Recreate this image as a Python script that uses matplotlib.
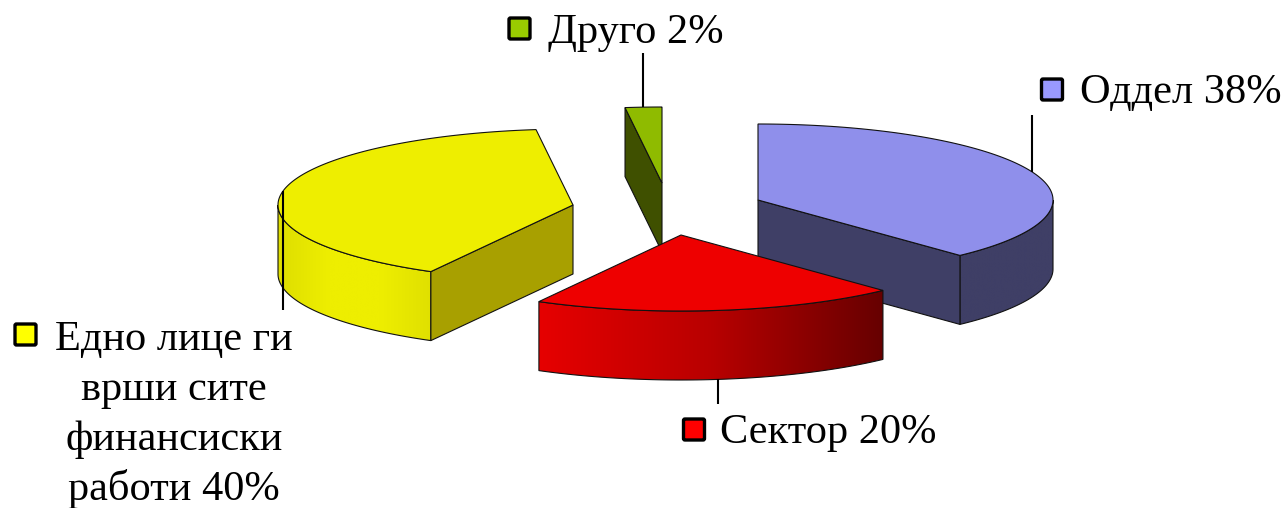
import numpy as np
import matplotlib
matplotlib.use("Agg")
import matplotlib.pyplot as plt
from matplotlib.colors import LinearSegmentedColormap
from matplotlib.patches import FancyBboxPatch, Polygon

# values, clockwise from 12 o'clock
names = ["Оддел 38%", "Сектор 20%", "Едно лице ги\nврши сите\nфинансиски\nработи 40%", "Друго 2%"]
shares = [38, 20, 40, 2]
top_colors = ["#8F8FEB", "#EE0000", "#EEEE00", "#8FBB00"]
cut_colors = ["#3F3F66", "#660000", "#A8A000", "#3F5000"]
key_colors = ["#9999FF", "#FF0000", "#FFFF00", "#99CC00"]
side_ramps = [["#3F3F66", "#3F3F66"],
              ["#E60000", "#B80000", "#660000"],
              ["#DEDE00", "#EEEE00", "#EEEE00", "#E0E000"],
              ["#3F5000", "#3F5000"]]
# which straight edge of a slice shows its cut wall: 0 start, 1 end, None neither
cut_edges = [1, None, 0, 0]

# layout in pixels
centers = [(758, 200), (681, 235), (573, 205), (662, 183)]
RX, RY, DEPTH = 295, 76, 69
leader_ends = [115, 404, 310, 53]
key_pos = [(1041.5, 79), (683.5, 419), (15, 324), (509, 18)]
text_pos = [(1080, 103), (720, 443), (174, 350), (548, 43)]
text_ha = ["left", "left", "center", "left"]
LINE_STEP = 50

EDGE = "#111111"
LW = 0.8


def rim(c, deg, drop=0):
    a = np.radians(deg)
    return np.column_stack([c[0] + RX * np.sin(a), c[1] - RY * np.cos(a) + drop])


def draw_slice(ax, c, a0, a1, top, cut, ramp, cut_edge, z):
    # front wall first, only the part of the arc that faces us
    s0, s1 = max(a0, 90), min(a1, 270)
    if s1 > s0:
        arc = np.linspace(s0, s1, 100)
        wall = np.vstack([rim(c, arc), rim(c, arc[::-1], DEPTH)])
        poly = Polygon(wall, closed=True, fc="none", ec=EDGE, lw=LW, zorder=z + 0.2)
        ax.add_patch(poly)
        cmap = LinearSegmentedColormap.from_list("w", ramp)
        im = ax.imshow(np.linspace(0, 1, 256)[None, :], cmap=cmap, aspect="auto",
                       extent=(wall[:, 0].min(), wall[:, 0].max(), wall[:, 1].max(), wall[:, 1].min()),
                       zorder=z + 0.1)
        im.set_clip_path(poly)

    # flat cut wall
    if cut_edge is not None:
        p = rim(c, (a0, a1)[cut_edge])[0]
        cut_pts = [c, p, (p[0], p[1] + DEPTH), (c[0], c[1] + DEPTH)]
        ax.add_patch(Polygon(cut_pts, closed=True, fc=cut, ec=EDGE, lw=LW, zorder=z + 0.3))

    # top face
    arc = np.linspace(a0, a1, 200)
    ax.add_patch(Polygon(np.vstack([[c], rim(c, arc)]), closed=True, fc=top, ec=EDGE, lw=LW, zorder=z + 0.4))


fig = plt.figure(figsize=(12.85, 5.08), dpi=100)
ax = fig.add_axes([0, 0, 1, 1])

edges = np.cumsum([0] + shares) * 3.6
order = [2, 3, 0, 1]
for rank, i in enumerate(order):
    draw_slice(ax, centers[i], edges[i], edges[i + 1], top_colors[i], cut_colors[i],
               side_ramps[i], cut_edges[i], rank + 1)

# leader lines start at the middle of each slice's rim
for i in range(len(shares)):
    mid = (edges[i] + edges[i + 1]) / 2
    x, y = rim(centers[i], mid)[0]
    if 90 < mid < 270:
        y += DEPTH
    ax.plot([x, x], [y, leader_ends[i]], color="black", lw=1.5, zorder=10, solid_capstyle="butt")

# legend keys and labels
for i, name in enumerate(names):
    kx, ky = key_pos[i]
    ax.add_patch(FancyBboxPatch((kx, ky), 21, 21, boxstyle="round,pad=0,rounding_size=1.5",
                                fc=key_colors[i], ec="black", lw=2.4, zorder=11))
    for j, line in enumerate(name.split("\n")):
        ax.text(text_pos[i][0], text_pos[i][1] + j * LINE_STEP, line, family="Liberation Serif",
                fontsize=30.5, color="black", ha=text_ha[i], va="baseline", zorder=11)

ax.set_xlim(0, 1285)
ax.set_ylim(508, 0)
ax.axis("off")
fig.savefig("out.png", dpi=100)
